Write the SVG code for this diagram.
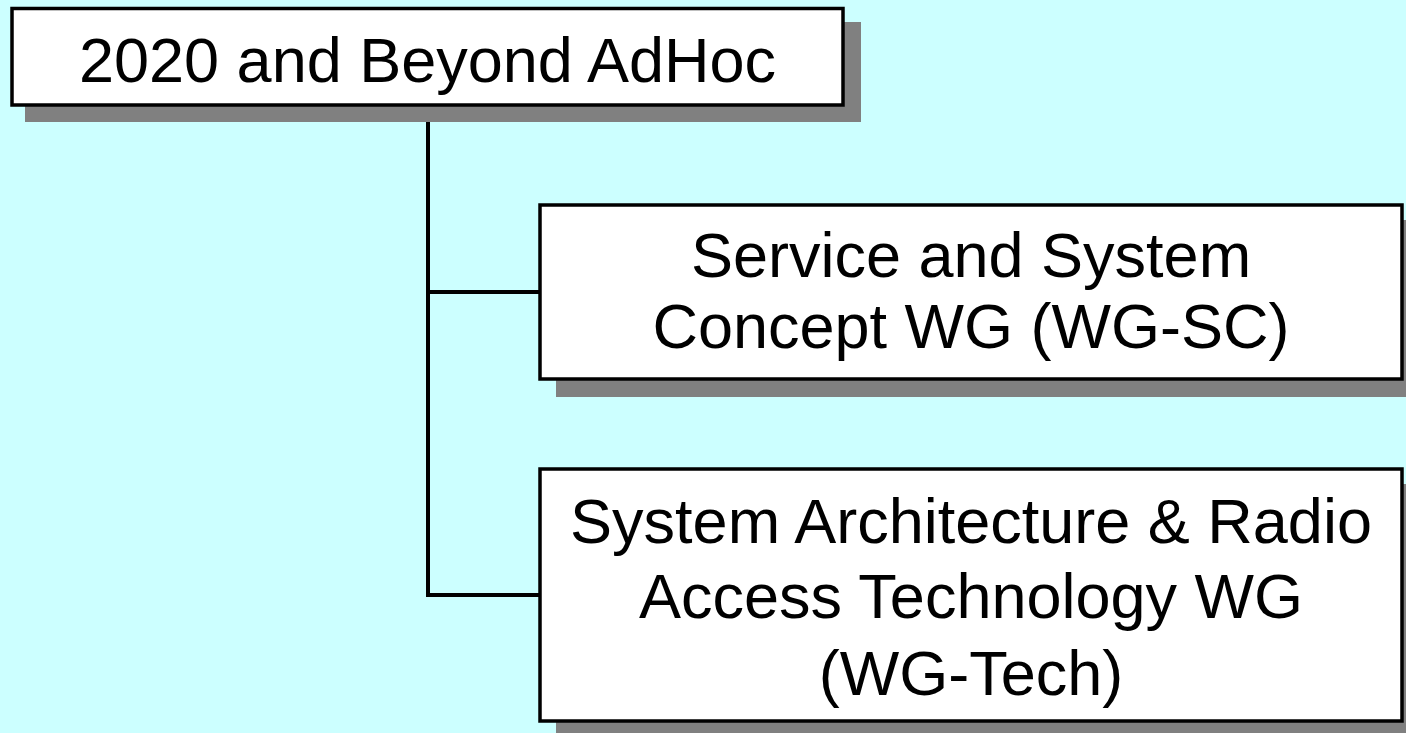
<svg xmlns="http://www.w3.org/2000/svg" width="1406" height="733" viewBox="0 0 1406 733">
<style>
.bg{fill:#CCFFFF}
.shadow{fill:#808080}
.box{fill:#FFFFFF;stroke:#000000;stroke-width:3.5}
.lbl{font-family:"Liberation Sans",Arial,sans-serif;font-size:63px;fill:#000000;text-anchor:middle}
.conn{fill:none;stroke:#000000;stroke-width:4}
</style>
<rect class="bg" x="0" y="0" width="1406" height="733"/>
<g id="connectors">
<path class="conn" d="M428,105 V595 H540"/>
<path class="conn" d="M428,292 H540"/>
</g>
<g id="node-adhoc">
<rect class="shadow" x="25" y="22" width="836" height="100"/>
<rect class="box" x="12" y="8.5" width="831" height="96.5"/>
<text class="lbl" x="427.5" y="82">2020 and Beyond AdHoc</text>
</g>
<g id="node-wgsc">
<rect class="shadow" x="556" y="220" width="850" height="177"/>
<rect class="box" x="540" y="205" width="862" height="174"/>
<text class="lbl" x="971" y="277">Service and System</text>
<text class="lbl" x="971" y="348">Concept WG (WG-SC)</text>
</g>
<g id="node-wgtech">
<rect class="shadow" x="556" y="484" width="850" height="249"/>
<rect class="box" x="540" y="469" width="862" height="252"/>
<text class="lbl" x="971" y="543">System Architecture &amp; Radio</text>
<text class="lbl" x="971" y="618">Access Technology WG</text>
<text class="lbl" x="971" y="695">(WG-Tech)</text>
</g>
</svg>
